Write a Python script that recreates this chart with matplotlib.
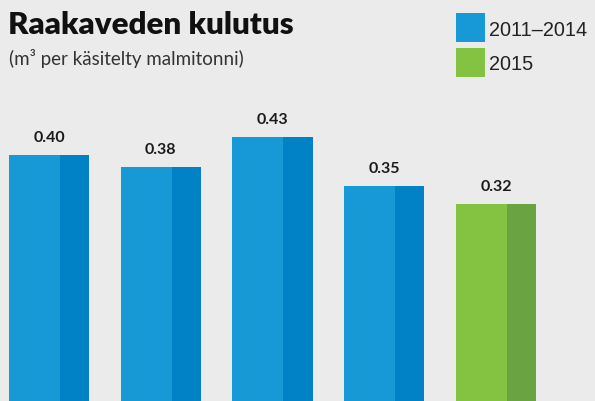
import matplotlib
matplotlib.use("Agg")
import matplotlib.pyplot as plt
from matplotlib.patches import Rectangle

years = ["2011", "2012", "2013", "2014", "2015"]
values = [0.40, 0.38, 0.43, 0.35, 0.32]
labels = ["0.40", "0.38", "0.43", "0.35", "0.32"]
legend_labels = ["2011–2014", "2015"]

bg = "#ebebeb"
light = ["#1799d6", "#1799d6", "#1799d6", "#1799d6", "#84c341"]
dark = ["#0282c6", "#0282c6", "#0282c6", "#0282c6", "#6aa342"]

fig = plt.figure(figsize=(5.95, 4.02), dpi=100)
fig.patch.set_facecolor(bg)
ax = fig.add_axes([0, 0, 1, 1])
ax.set_facecolor(bg)
x = list(range(len(values)))
width = 0.716
dark_w = 0.26
ax.bar(x, values, width=width, color=light, linewidth=0)
ax.bar([i + width / 2 - dark_w / 2 for i in x], values, width=dark_w, color=dark, linewidth=0)
for i, (v, t) in enumerate(zip(values, labels)):
    ax.annotate(t, (i, v), xytext=(0, 14 / 1.389), textcoords="offset points",
                ha="center", va="baseline", fontsize=11.5, fontweight="bold",
                family="Lato", color="#1a1a1a")
ax.set_xlim(-0.4385, 4.886)
ax.set_ylim(0, 402 / 615)
ax.axis("off")

fig.text(8 / 595, 1 - 34 / 402, "Raakaveden kulutus", fontsize=22.5, fontweight="heavy",
         family="Lato", color="#111111", ha="left", va="baseline")
fig.text(9 / 595, 1 - 65 / 402, "(m³ per käsitelty malmitonni)", fontsize=13.5,
         family="Lato", color="#333333", ha="left", va="baseline")

for j, (lab, col) in enumerate(zip(legend_labels, [light[0], light[4]])):
    top = 14 + j * 35
    fig.patches.append(Rectangle((456 / 595, 1 - (top + 29) / 402), 29 / 595, 29 / 402,
                                 transform=fig.transFigure, facecolor=col, edgecolor="none"))
    fig.text(489 / 595, 1 - (top + 21.5) / 402, lab, fontsize=14.3, family="Liberation Sans",
             color="#222222", ha="left", va="baseline")

fig.savefig("out.png", dpi=100, facecolor=bg)
